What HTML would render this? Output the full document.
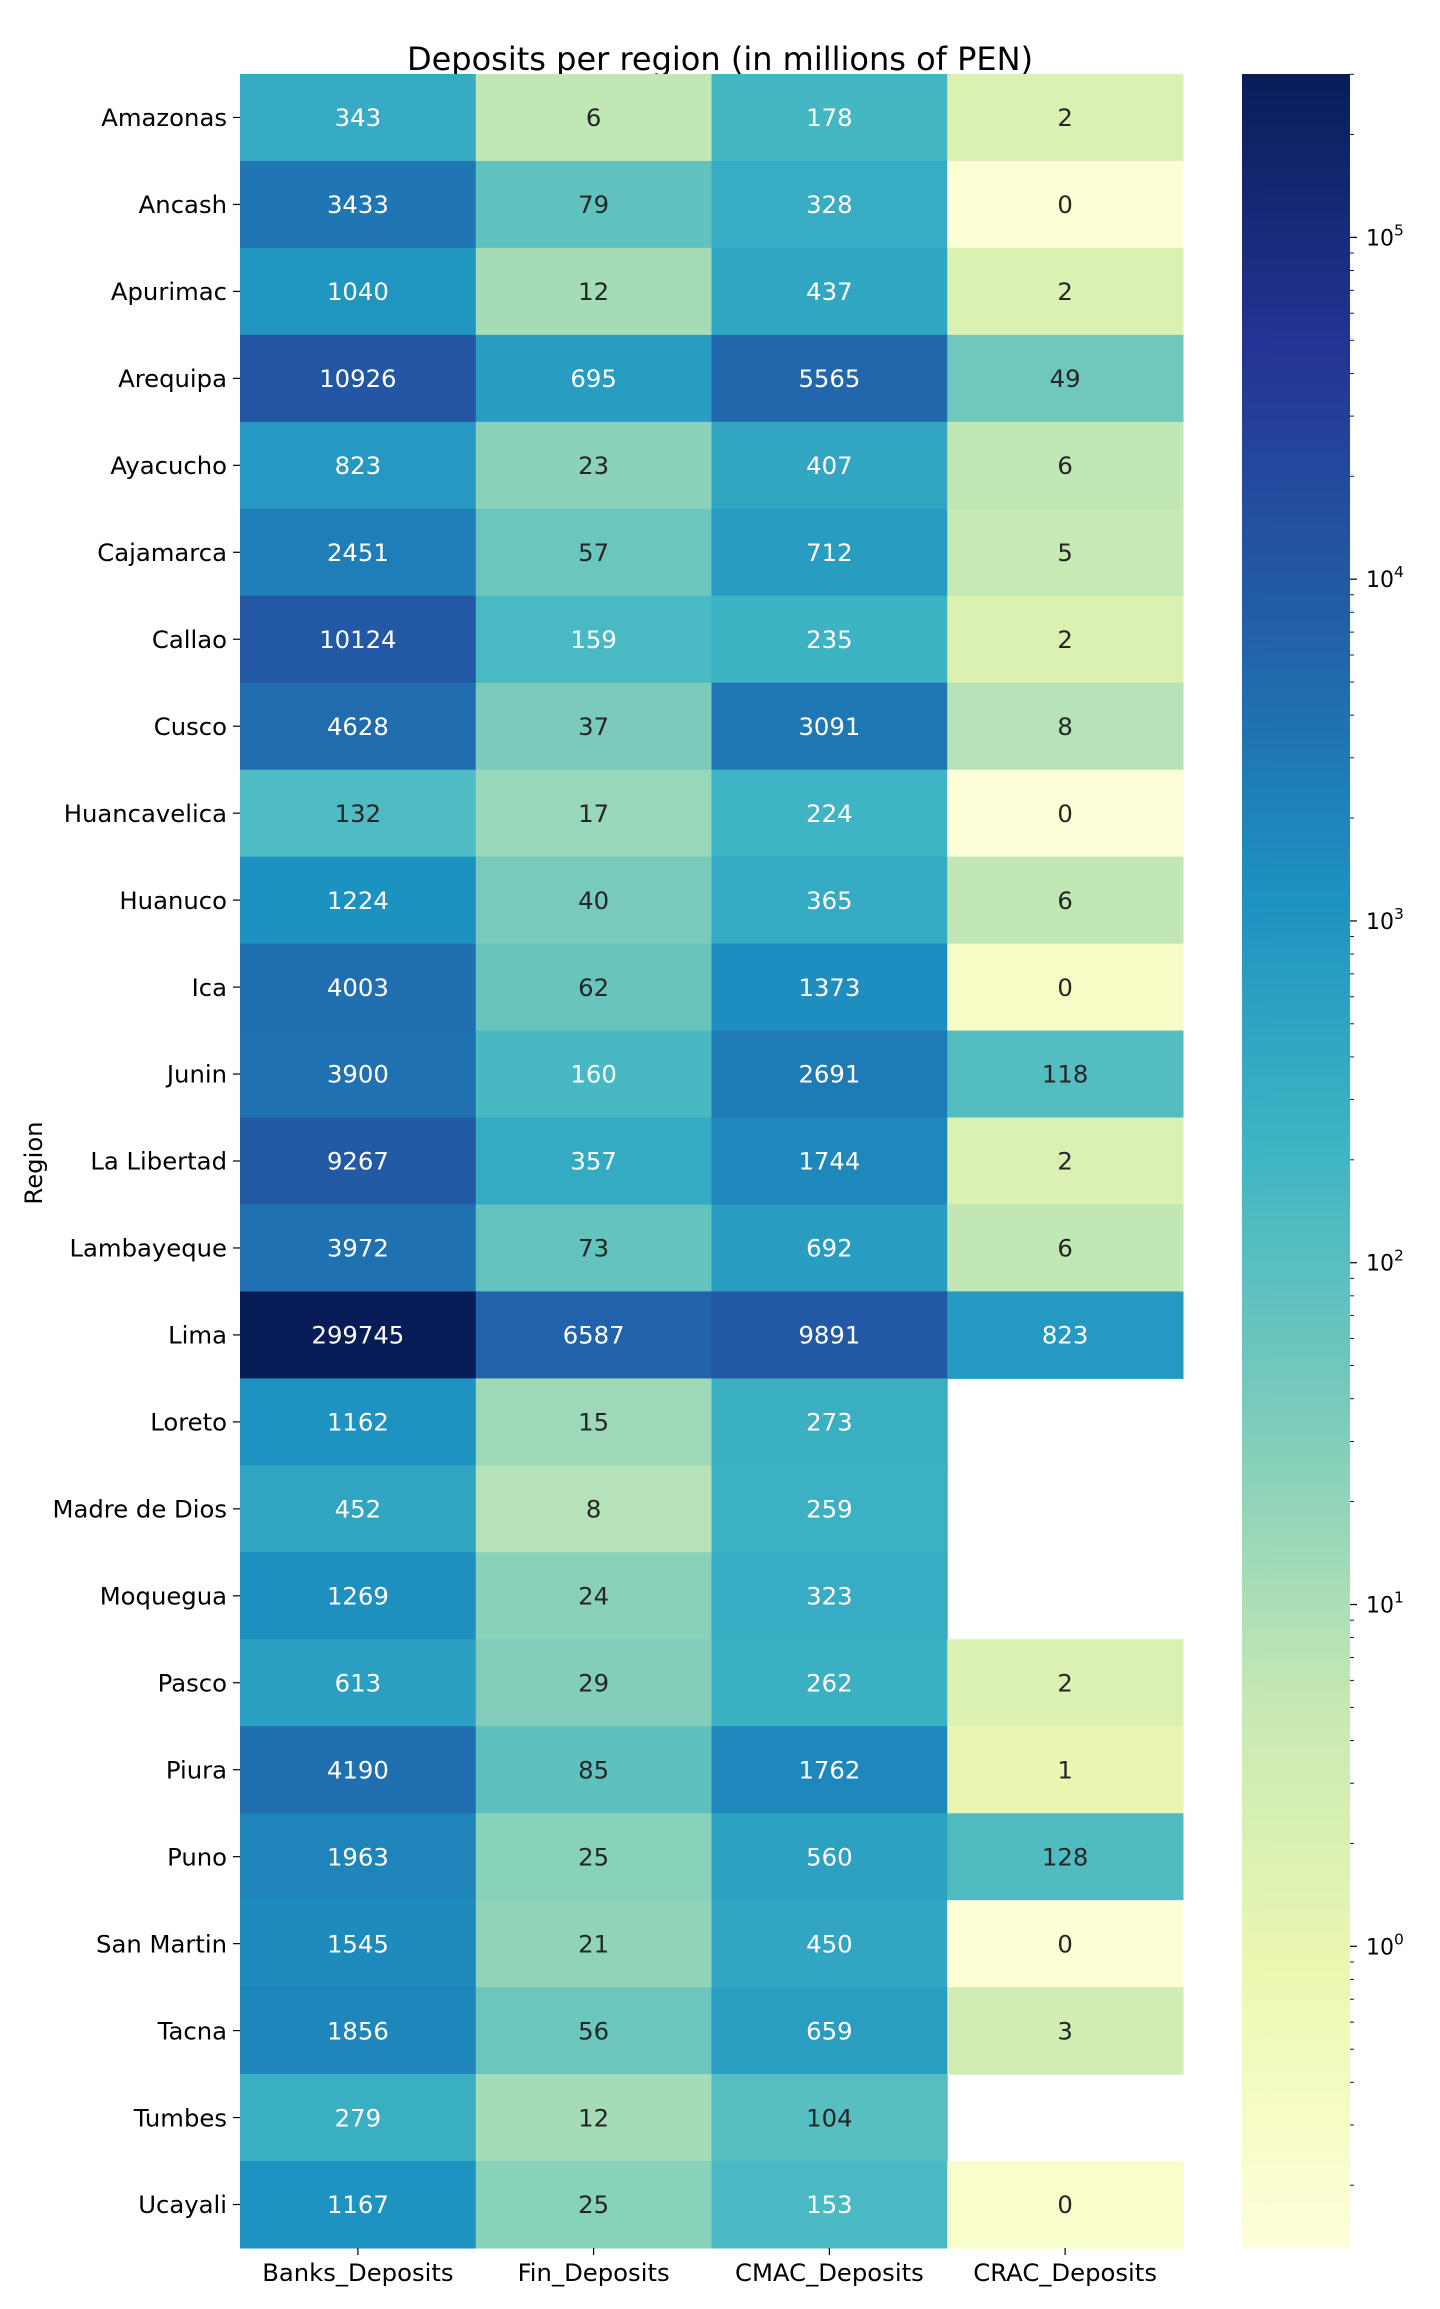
<!DOCTYPE html>
<html><head><meta charset="utf-8"><style>
html,body{margin:0;padding:0;background:#fff}
svg text{font-family:"DejaVu Sans","Liberation Sans",sans-serif}
</style></head><body>
<svg id="chart" width="1440" height="2304" xmlns="http://www.w3.org/2000/svg">
<text x="720" y="70" text-anchor="middle" font-size="32" fill="#000">Deposits per region (in millions of PEN)</text>
<text x="0" y="0" transform="translate(42,1163) rotate(-90)" text-anchor="middle" font-size="24.3" fill="#000">Region</text>
<g id="cells"></g><g id="ylabels"></g><g id="xlabels"></g><g id="cbar"></g>
</svg>
<script>
const regions=["Amazonas","Ancash","Apurimac","Arequipa","Ayacucho","Cajamarca","Callao","Cusco","Huancavelica","Huanuco","Ica","Junin","La Libertad","Lambayeque","Lima","Loreto","Madre de Dios","Moquegua","Pasco","Piura","Puno","San Martin","Tacna","Tumbes","Ucayali"];
const columns=["Banks_Deposits","Fin_Deposits","CMAC_Deposits","CRAC_Deposits"];
const banks=[343,3433,1040,10926,823,2451,10124,4628,132,1224,4003,3900,9267,3972,299745,1162,452,1269,613,4190,1963,1545,1856,279,1167];
const fin=[6,79,12,695,23,57,159,37,17,40,62,160,357,73,6587,15,8,24,29,85,25,21,56,12,25];
const cmac=[178,328,437,5565,407,712,235,3091,224,365,1373,2691,1744,692,9891,273,259,323,262,1762,560,450,659,104,153];
const crac=[2,0.15,2,49,6,5,2,8,0.14,6,0.3,118,2,6,823,null,null,null,2,1,128,0.15,3,null,0.25];
const series=[banks,fin,cmac,crac];
const cbarMajor=[0,1,2,3,4,5];

const NS="http://www.w3.org/2000/svg";
const X0=240,X1=1183,Y0=74,Y1=2248;
const cw=(X1-X0)/columns.length, rh=(Y1-Y0)/regions.length;
const vmin=0.131,vmax=300600;
const lmin=Math.log10(vmin),lmax=Math.log10(vmax);
const stops=["#ffffd9","#edf8b1","#c7e9b4","#7fcdbb","#41b6c4","#1d91c0","#225ea8","#253494","#081d58"].map(h=>[1,3,5].map(i=>parseInt(h.substr(i,2),16)));
function cmap(t){t=Math.max(0,Math.min(1,t));const p=t*(stops.length-1);const i=Math.min(stops.length-2,Math.floor(p));const f=p-i;return stops[i].map((c,k)=>Math.round(c+(stops[i+1][k]-c)*f));}
function norm(v){return (Math.log10(v)-lmin)/(lmax-lmin);}
function lum(c){const l=c.map(x=>{x/=255;return x<=0.03928?x/12.92:Math.pow((x+0.055)/1.055,2.4)});return 0.2126*l[0]+0.7152*l[1]+0.0722*l[2];}
function mk(tag,attrs,parent){const e=document.createElementNS(NS,tag);for(const k in attrs)e.setAttribute(k,attrs[k]);parent.appendChild(e);return e;}
const cells=document.getElementById('cells');
series.forEach((vals,ci)=>{vals.forEach((v,ri)=>{
  if(v===null)return;
  const c=cmap(norm(v));
  const r=mk('rect',{x:X0+ci*cw,y:Y0+ri*rh,width:cw+0.5,height:rh+0.5,fill:`rgb(${c})`},cells);
  
  
  const t=mk('text',{x:X0+(ci+0.5)*cw,y:Y0+(ri+0.5)*rh+8.7,'text-anchor':'middle','font-size':'24.3',fill:lum(c)>0.408?'#262626':'#fff'},cells);
  
  
  t.textContent=String(Math.round(v));
});});
const yl=document.getElementById('ylabels');
regions.forEach((r,i)=>{const y=Y0+(i+0.5)*rh;
  const tk=mk('line',{x1:X0-7,x2:X0,y1:y,y2:y,stroke:'#000','stroke-width':1.2},yl);
  
  
  const t=mk('text',{x:X0-13,y:y+8.7,'text-anchor':'end','font-size':'24.3',fill:'#000'},yl);
  
  
  t.textContent=r;});
const xl=document.getElementById('xlabels');
columns.forEach((c,i)=>{const x=X0+(i+0.5)*cw;
  const tk=mk('line',{x1:x,x2:x,y1:Y1,y2:Y1+7,stroke:'#000','stroke-width':1.2},xl);
  
  
  const t=mk('text',{x:x,y:Y1+33,'text-anchor':'middle','font-size':'24.3',fill:'#000'},xl);
  
  
  t.textContent=c;});
const cb=document.getElementById('cbar');const CX0=1242,CX1=1350;
const defs=mk('defs',{},cb);const g=mk('linearGradient',{id:'cg',x1:0,y1:1,x2:0,y2:0},defs);
for(let i=0;i<=40;i++){const c=cmap(i/40);mk('stop',{offset:(i/40),'stop-color':`rgb(${c})`},g);}
const cr=mk('rect',{x:CX0,y:Y0,width:CX1-CX0,height:Y1-Y0,fill:'url(#cg)'},cb);


function cy(l){return Y1-(l-lmin)/(lmax-lmin)*(Y1-Y0);}
for(let d=-1;d<=5;d++){for(let m=1;m<=9;m++){const l=d+Math.log10(m);if(l<lmin||l>lmax)continue;
  const y=cy(l);const major=m===1;
  const tk=mk('line',{x1:CX1,x2:CX1+(major?7:4),y1:y,y2:y,stroke:'#000','stroke-width':major?1.2:0.9},cb);
  
  }}
cbarMajor.forEach(e=>{const y=cy(e);
  const t=mk('text',{x:CX1+16,y:y+8,'font-size':'22','fill':'#000'},cb);
  
  
  t.textContent='10';
  const s=mk('tspan',{dy:-10,'font-size':'15.5'},t);s.textContent=String(e);});
</script>
</body></html>
